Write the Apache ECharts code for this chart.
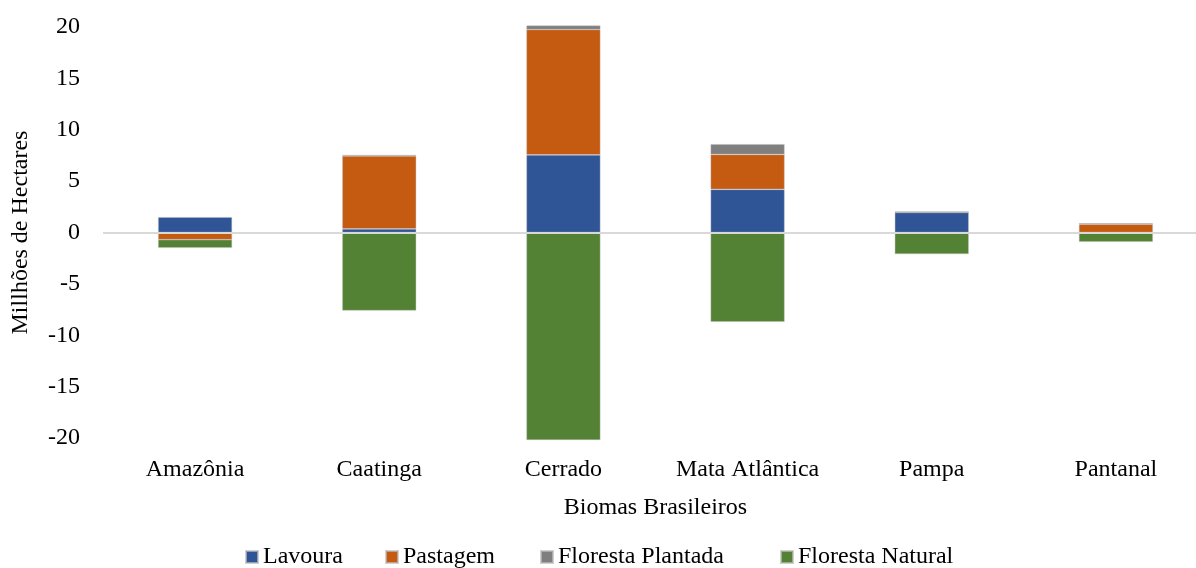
<!DOCTYPE html>
<html>
<head>
<meta charset="utf-8">
<script src="https://cdn.jsdelivr.net/npm/echarts@6/dist/echarts.min.js"></script>
<style>
  html, body { margin: 0; padding: 0; background: #ffffff; }
  #chart { width: 1196px; height: 568px; }
</style>
</head>
<body>
<div id="chart"></div>
<script>
// Land-use change by Brazilian biome (millions of hectares)
const biomas = ['Amazônia', 'Caatinga', 'Cerrado', 'Mata Atlântica', 'Pampa', 'Pantanal'];
const lavoura = [1.5, 0.35, 7.55, 4.2, 1.95, 0.0];
const pastagem = [-0.7, 7.1, 12.2, 3.4, 0.0, 0.8];
const florestaPlantada = [0.0, 0.1, 0.4, 1.0, 0.1, 0.1];
const florestaNatural = [-0.8, -7.6, -20.2, -8.7, -2.1, -0.9];
const yTicks = [-20, -15, -10, -5, 0, 5, 10, 15, 20];
const seriesNames = ['Lavoura', 'Pastagem', 'Floresta Plantada', 'Floresta Natural'];

const FONT = 'Liberation Serif';
const FS = 24;
const colors = {
  lavoura: '#2f5597',
  pastagem: '#c55a11',
  plantada: '#7f7f7f',
  natural: '#548235'
};

function barSeries(name, data, color, extra) {
  return Object.assign({
    name: name,
    type: 'bar',
    stack: 'total',
    data: data,
    barWidth: 74,
    clip: false,
    itemStyle: { color: color, borderColor: 'rgba(190,190,190,0.7)', borderWidth: 0.6 },
    emphasis: { disabled: true }
  }, extra || {});
}

// one legend block per series so each entry sits at its own offset
const legendLefts = [245, 385, 540, 780];
const legends = seriesNames.map((n, i) => ({
  top: 545,
  left: legendLefts[i],
  padding: 0,
  itemWidth: 12,
  itemHeight: 12,
  itemGap: 0,
  icon: 'rect',
  selectedMode: false,
  textStyle: { fontFamily: FONT, fontSize: FS, color: '#000000' },
  data: [n]
}));

const chart = echarts.init(document.getElementById('chart'), null, { renderer: 'canvas' });
chart.setOption({
  animation: false,
  textStyle: { fontFamily: FONT },
  grid: {
    left: 103, top: 27, width: 1105, height: 411,
    containLabel: false, outerBoundsMode: 'none'
  },
  legend: legends,
  xAxis: {
    type: 'category',
    data: biomas,
    name: 'Biomas Brasileiros',
    nameLocation: 'middle',
    nameGap: 58,
    nameTextStyle: { fontFamily: FONT, fontSize: FS, color: '#000000' },
    axisLine: { show: false, onZero: false },
    axisTick: { show: false },
    axisLabel: { fontFamily: FONT, fontSize: FS, color: '#000000', margin: 20, interval: 0 }
  },
  yAxis: {
    type: 'value',
    min: yTicks[0],
    max: yTicks[yTicks.length - 1],
    interval: 5,
    name: 'Millhões de Hectares',
    nameLocation: 'middle',
    nameGap: 70,
    nameTextStyle: { fontFamily: FONT, fontSize: FS, color: '#000000' },
    axisLine: { show: false },
    axisTick: { show: false },
    splitLine: { show: false },
    axisLabel: { fontFamily: FONT, fontSize: FS, color: '#000000', margin: 23 }
  },
  series: [
    barSeries(seriesNames[0], lavoura, colors.lavoura, {
      markLine: {
        silent: true,
        symbol: 'none',
        label: { show: false },
        lineStyle: { color: '#d9d9d9', width: 2, type: 'solid' },
        data: [{ yAxis: 0 }],
        z: 10
      }
    }),
    barSeries(seriesNames[1], pastagem, colors.pastagem),
    barSeries(seriesNames[2], florestaPlantada, colors.plantada),
    barSeries(seriesNames[3], florestaNatural, colors.natural)
  ]
});
</script>
</body>
</html>
